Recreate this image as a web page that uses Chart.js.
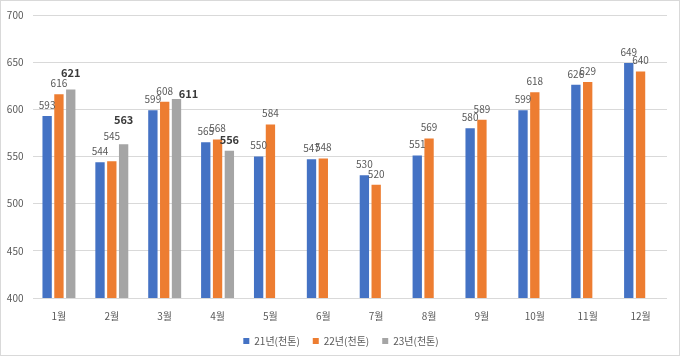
<!DOCTYPE html>
<html>
<head>
<meta charset="utf-8">
<script src="https://cdn.jsdelivr.net/npm/chart.js@4/dist/chart.umd.min.js"></script>
<style>
html,body{margin:0;padding:0;background:#fff;}
#c{display:block;}
</style>
</head>
<body>
<canvas id="c" width="680" height="357"></canvas>
<script>
const categories = ['1월','2월','3월','4월','5월','6월','7월','8월','9월','10월','11월','12월'];
const seriesNames = ['21년(천톤)','22년(천톤)','23년(천톤)'];
const values21 = [593,544,599,565,550,547,530,551,580,599,626,649];
const values22 = [616,545,608,568,584,548,520,569,589,618,629,640];
const values23 = [621,563,611,556,null,null,null,null,null,null,null,null];
const yTicks = [400,450,500,550,600,650,700];

const colors = ['#4472C4','#ED7D31','#A5A5A5'];
const FONT = '"Noto Sans CJK KR", "Noto Sans", sans-serif';

const frame = {
  id:'frame',
  beforeDraw(chart){
    const ctx = chart.ctx;
    ctx.save();
    ctx.fillStyle = '#fff';
    ctx.fillRect(0,0,chart.width,chart.height);
    ctx.strokeStyle = '#d9d9d9';
    ctx.lineWidth = 1;
    ctx.strokeRect(0.5,0.5,679,355);
    ctx.restore();
  },
  afterLayout(chart){
    const lg = chart.legend;
    if (!lg) return;
    const w = lg.right - lg.left;
    const dx = 341 - (lg.left + w/2);
    lg.left += dx; lg.right += dx;
  }
};

const dataLabels = {
  id:'dataLabels',
  afterDatasetsDraw(chart, args, opts){
    const ctx = chart.ctx;
    ctx.save();
    ctx.textAlign = 'center';
    ctx.textBaseline = 'middle';
    chart.data.datasets.forEach((ds, di) => {
      const meta = chart.getDatasetMeta(di);
      const bold = di === 2;
      ctx.font = (bold ? 'bold 11px ' : '10px ') + FONT;
      ctx.fillStyle = bold ? '#3a3a3a' : '#595959';
      meta.data.forEach((el, i) => {
        const v = ds.data[i];
        if (v === null || v === undefined) return;
        const n = (opts.nudge && opts.nudge[di + ':' + i]) || [0,0];
        ctx.fillText(String(v), el.x + n[0], el.y - 11 - n[1]);
      });
    });
    ctx.restore();
  }
};

new Chart(document.getElementById('c'), {
  type:'bar',
  data:{
    labels: categories,
    datasets:[
      {label: seriesNames[0], data: values21, backgroundColor: colors[0]},
      {label: seriesNames[1], data: values22, backgroundColor: colors[1]},
      {label: seriesNames[2], data: values23, backgroundColor: colors[2]}
    ]
  },
  options:{
    responsive:false,
    animation:false,
    devicePixelRatio:1,
    layout:{padding:{left:0,right:13,top:12,bottom:1}},
    datasets:{bar:{categoryPercentage:0.67, barPercentage:0.79, borderWidth:0}},
    scales:{
      x:{
        grid:{display:false, drawTicks:false},
        border:{display:false},
        ticks:{color:'#595959', font:{family:FONT, size:10}, padding:12, maxRotation:0},
        afterFit(s){ s.height = 25; }
      },
      y:{
        min:400, max:700,
        afterBuildTicks(s){ s.ticks = yTicks.map(v => ({value:v})); },
        grid:{color:'#d9d9d9', drawTicks:false, lineWidth:1},
        border:{display:false},
        ticks:{color:'#595959', font:{family:FONT, size:10}, padding:9},
        afterFit(s){ s.width = 32.5; }
      }
    },
    plugins:{
      legend:{
        position:'bottom',
        labels:{
          boxWidth:6, boxHeight:6, padding:13,
          color:'#595959',
          font:{family:FONT, size:10}
        }
      },
      tooltip:{enabled:false},
      dataLabels:{nudge:{'2:0':[0,6],'1:1':[0,14],'2:1':[0,13],'2:2':[12,-6]}}
    }
  },
  plugins:[frame, dataLabels]
});
</script>
</body>
</html>
